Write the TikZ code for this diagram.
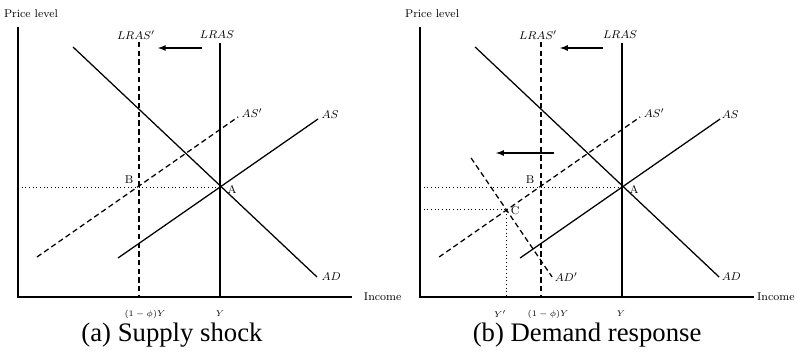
\documentclass[tikz,border=0pt]{standalone}
\usepackage{fontspec}
\newfontfamily\capfont{Liberation Serif}
\usetikzlibrary{positioning}

\begin{document}
\begin{tikzpicture}[
  x=0.025cm, y=-0.025cm,
  font=\fontsize{8}{9.6}\selectfont,
  axis/.style={line width=0.9pt},
  curve/.style={line width=0.9pt},
  dcurve/.style={line width=0.9pt, dash pattern=on 3.8pt off 2.4pt},
  guide/.style={dotted, line width=0.6pt},
  shiftarr/.style={-latex, line width=0.9pt},
  lab/.style={inner sep=1pt},
  tick/.style={font=\fontsize{6.5}{8}\selectfont},
  caption/.style={font=\capfont\fontsize{19}{22}\selectfont}
]
\useasboundingbox (0,0) rectangle (797,353);

% --- (a) Supply shock ---
\coordinate (aO) at (18,297);
\coordinate (aTop) at (18,27);
\coordinate (aEnd) at (352,297);
\coordinate (aA) at (220,187);
\coordinate (aB) at (139,187);
\coordinate (aL1) at (220,43);
\coordinate (aL0) at (220,297);
\coordinate (aLp1) at (139,42);
\coordinate (aLp0) at (139,297);
\coordinate (aD1) at (73,47);
\coordinate (aD0) at (317,277);
\coordinate (aS0) at (118,258);
\coordinate (aS1) at (318,119);
\coordinate (aSp0) at (37,257);
\coordinate (aSp1) at (238,117);
\coordinate (aR0) at (202,48);
\coordinate (aR1) at (158,48);

\draw[axis] (aTop) -- (aO) -- (aEnd);
\node (aPrice) at (31,14) {Price level};
\node[anchor=west] (aInc) at (359,297) {Income};

\draw[guide] (aO |- aA) -- (aA);
\draw[curve] (aL1) -- (aL0);
\draw[dcurve] (aLp1) -- (aLp0);
\draw[curve] (aD1) -- (aD0);
\draw[curve] (aS0) -- (aS1);
\draw[dcurve] (aSp0) -- (aSp1);
\draw[shiftarr] (aR0) -- (aR1);

\node[lab] (aLRAS) at (217,35) {$LRAS$};
\node[lab] (aLRASp) at (136,35) {$LRAS'$};
\node[lab, anchor=west] (aASl) at (320,115) {$AS$};
\node[lab, anchor=west] (aASpl) at (240,113) {$AS'$};
\node[lab, anchor=west] (aADl) at (320,277) {$AD$};
\node[lab] (aAl) at (232,189) {A};
\node[lab] (aBl) at (129,180) {B};
\node[tick] (aT1) at (145,314) {$(1-\phi)Y$};
\node[tick] (aT2) at (220,314) {$Y$};
\node[caption] (aCap) at (172,335) {(a) Supply shock};

% --- (b) Demand response ---
\begin{scope}[xshift=10.05cm]
\coordinate (bO) at (18,297);
\coordinate (bTop) at (18,27);
\coordinate (bEnd) at (352,297);
\coordinate (bA) at (220,187);
\coordinate (bB) at (139,187);
\coordinate (bC) at (104,209);
\coordinate (bL1) at (220,43);
\coordinate (bL0) at (220,297);
\coordinate (bLp1) at (139,42);
\coordinate (bLp0) at (139,297);
\coordinate (bD1) at (73,47);
\coordinate (bD0) at (317,277);
\coordinate (bDp1) at (69,158);
\coordinate (bDp0) at (150,277);
\coordinate (bS0) at (118,258);
\coordinate (bS1) at (318,119);
\coordinate (bSp0) at (37,257);
\coordinate (bSp1) at (238,117);
\coordinate (bR0) at (201,48);
\coordinate (bR1) at (158,48);
\coordinate (bQ0) at (152,153);
\coordinate (bQ1) at (94,153);

\draw[axis] (bTop) -- (bO) -- (bEnd);
\node (bPrice) at (30,14) {Price level};
\node[anchor=west, inner sep=0.5pt] (bInc) at (354,297) {Income};

\draw[guide] (bO |- bA) -- (bA);
\draw[guide] (bO |- bC) -- (bC) -- (bC |- bO);
\draw[curve] (bL1) -- (bL0);
\draw[dcurve] (bLp1) -- (bLp0);
\draw[curve] (bD1) -- (bD0);
\draw[dcurve] (bDp1) -- (bDp0);
\draw[curve] (bS0) -- (bS1);
\draw[dcurve] (bSp0) -- (bSp1);
\draw[shiftarr] (bR0) -- (bR1);
\draw[shiftarr] (bQ0) -- (bQ1);

\node[lab] (bLRAS) at (218,35) {$LRAS$};
\node[lab] (bLRASp) at (136,35) {$LRAS'$};
\node[lab, anchor=west] (bASl) at (318,115) {$AS$};
\node[lab, anchor=west] (bASpl) at (240,113) {$AS'$};
\node[lab, anchor=west] (bADl) at (318,277) {$AD$};
\node[lab, anchor=west] (bADpl) at (151,277) {$AD'$};
\node[lab] (bAl) at (232,189) {A};
\node[lab] (bBl) at (128,180) {B};
\node[lab] (bCl) at (113,211) {C};
\node[tick] (bT0) at (98,314) {$Y'$};
\node[tick] (bT1) at (146,314) {$(1-\phi)Y$};
\node[tick] (bT2) at (219,314) {$Y$};
\node[caption] (bCap) at (185,335) {(b) Demand response};
\end{scope}

\end{tikzpicture}
\end{document}
